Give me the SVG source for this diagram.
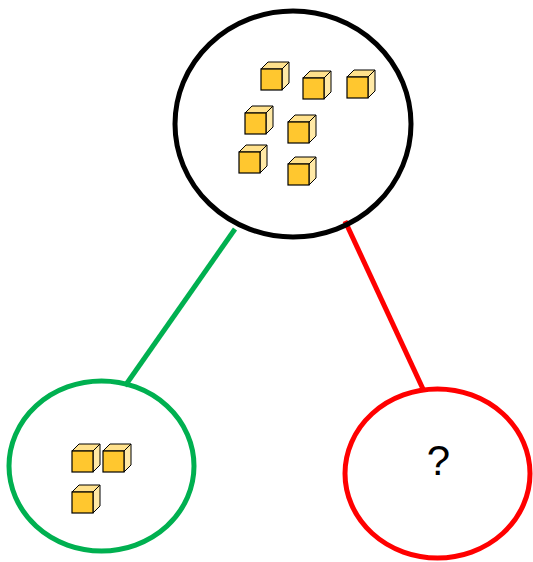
<svg xmlns="http://www.w3.org/2000/svg" xmlns:xlink="http://www.w3.org/1999/xlink" width="533" height="562" viewBox="0 0 533 562">
<style>
.ring{fill:none;stroke-width:5}
.top{fill:#FFE18C;stroke:#000;stroke-width:1;stroke-linejoin:round}
.side{fill:#FFE9A6;stroke:#000;stroke-width:1;stroke-linejoin:round}
.front{fill:#FFC72F;stroke:#000;stroke-width:1.2}
.edge{stroke-width:5;fill:none}
</style>
<defs>
<g id="cube">
<polygon class="top" points="0,0 7,-7 28,-7 21,0"/>
<polygon class="side" points="21,0 28,-7 28,14 21,21"/>
<rect class="front" x="0" y="0" width="21" height="21"/>
</g>
</defs>
<rect width="533" height="562" fill="#fff"/>
<g id="connectors">
<line class="edge" x1="235" y1="229" x2="125" y2="386" stroke="#00B050"/>
<line class="edge" x1="345" y1="221" x2="423" y2="389" stroke="#FF0000"/>
</g>
<g id="root">
<ellipse class="ring" cx="293" cy="124" rx="118" ry="113" stroke="#000"/>
<use xlink:href="#cube" x="261" y="69"/>
<use xlink:href="#cube" x="303" y="78"/>
<use xlink:href="#cube" x="347" y="77"/>
<use xlink:href="#cube" x="245" y="113"/>
<use xlink:href="#cube" x="288" y="122"/>
<use xlink:href="#cube" x="239" y="152"/>
<use xlink:href="#cube" x="288" y="164"/>
</g>
<g id="left">
<ellipse class="ring" cx="101.5" cy="466" rx="92.5" ry="85" stroke="#00B050"/>
<use xlink:href="#cube" x="72" y="451"/>
<use xlink:href="#cube" x="103" y="451"/>
<use xlink:href="#cube" x="72" y="492"/>
</g>
<g id="right">
<ellipse class="ring" cx="437.5" cy="473.5" rx="92.5" ry="84.5" stroke="#FF0000"/>
<text x="438.5" y="475" font-family="Liberation Sans, Arial, sans-serif" font-size="42" text-anchor="middle" fill="#000">?</text>
</g>
</svg>
